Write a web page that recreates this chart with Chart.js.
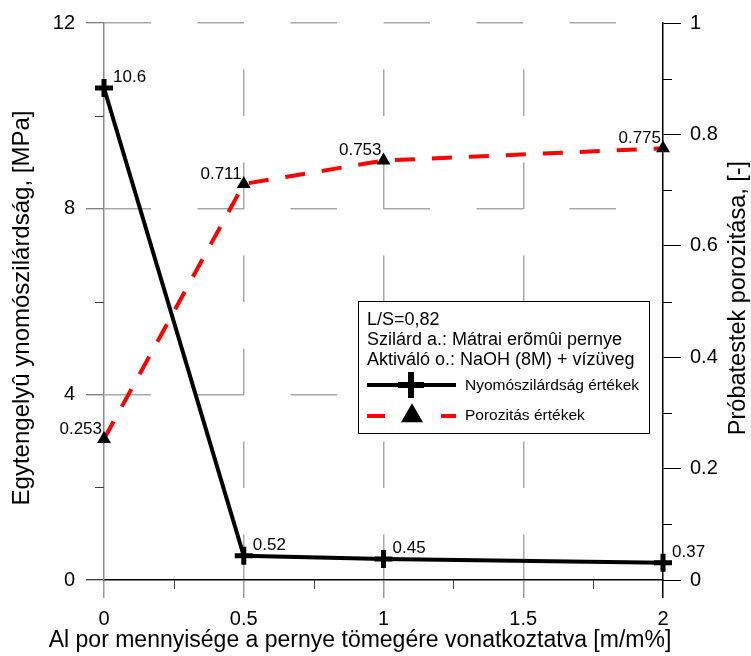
<!DOCTYPE html>
<html>
<head>
<meta charset="utf-8">
<script src="https://cdn.jsdelivr.net/npm/chart.js@4/dist/chart.umd.min.js"></script>
<style>
  html, body { margin: 0; padding: 0; background: #fff; }
</style>
</head>
<body>
<canvas id="grafikon" width="751" height="656"></canvas>
<script>
/* ADATOK */
const alMennyiseg = [0, 0.5, 1, 2];
const nyomoszilardsag = [10.6, 0.52, 0.45, 0.37];
const porozitas = [0.253, 0.711, 0.753, 0.775];

/* TENGELYEK */
const xTicks = [0, 0.5, 1, 1.5, 2];
const xMinor = [0.25, 0.75, 1.25, 1.75];
const balTicks = [0, 4, 8, 12];
const balMinor = [2, 6, 10];
const jobbTicks = [0, 0.2, 0.4, 0.6, 0.8, 1];
const jobbMinor = [0.1, 0.3, 0.5, 0.7, 0.9];

/* SZÖVEGEK */
const sorozatNevek = ["Nyomószilárdság értékek", "Porozitás értékek"];
const jelmagyarazatSorok = ["L/S=0,82", "Szilárd a.: Mátrai erõmûi pernye", "Aktiváló o.: NaOH (8M) + vízüveg"];
const cimX = "Al por mennyisége a pernye tömegére vonatkoztatva [m/m%]";
const cimBal = "Egytengelyû ynomószilárdság, [MPa]";
const cimJobb = "Próbatestek porozitása, [-]";

const BETU = "'Liberation Sans', Arial, sans-serif";
const RACS = "#a8a8a8";

function vonal(ctx, x1, y1, x2, y2) {
  ctx.beginPath();
  ctx.moveTo(x1, y1);
  ctx.lineTo(x2, y2);
  ctx.stroke();
}

/* PLUGIN: kis osztások, feliratok, jelmagyarázat, tengelycímek */
const rajzolo = {
  id: "rajzolo",
  afterDraw(chart) {
    const ctx = chart.ctx;
    const {x, y, y1} = chart.scales;
    const ca = chart.chartArea;
    ctx.save();

    // kis osztások
    ctx.lineWidth = 1;
    ctx.strokeStyle = "#444";
    balMinor.forEach(v => { const p = Math.round(y.getPixelForValue(v)) + 0.5; vonal(ctx, ca.left - 9, p, ca.left, p); });
    xMinor.forEach(v => { const p = Math.round(x.getPixelForValue(v)) + 0.5; vonal(ctx, p, ca.bottom, p, ca.bottom + 9); });
    ctx.strokeStyle = "#000";
    jobbMinor.forEach(v => { const p = Math.round(y1.getPixelForValue(v)) + 0.5; vonal(ctx, ca.right, p, ca.right + 9, p); });

    // pontfeliratok
    ctx.fillStyle = "#000";
    ctx.font = "17px " + BETU;
    ctx.textBaseline = "middle";
    ctx.textAlign = "left";
    chart.getDatasetMeta(0).data.forEach((pt, i) => {
      ctx.fillText(String(nyomoszilardsag[i]), pt.x + 9, pt.y - 11);
    });
    ctx.textAlign = "right";
    chart.getDatasetMeta(1).data.forEach((pt, i) => {
      ctx.fillText(String(porozitas[i]), pt.x - 2, pt.y - 10);
    });

    // jelmagyarázat
    const bx = 358.5, by = 301.5, bw = 291, bh = 132;
    ctx.fillStyle = "#fff";
    ctx.fillRect(bx, by, bw, bh);
    ctx.strokeStyle = "#000";
    ctx.lineWidth = 1;
    ctx.strokeRect(bx, by, bw, bh);
    ctx.fillStyle = "#000";
    ctx.textAlign = "left";
    ctx.font = "18px " + BETU;
    jelmagyarazatSorok.forEach((s, i) => ctx.fillText(s, 367, 320 + i * 20));

    const ds = chart.data.datasets;
    ctx.font = "15.5px " + BETU;
    // 1. sorozat
    ctx.strokeStyle = ds[0].borderColor;
    ctx.lineWidth = 4;
    vonal(ctx, 367, 385, 456, 385);
    ctx.lineWidth = 6;
    Chart.helpers.drawPoint(ctx, {pointStyle: "cross", radius: 13, borderWidth: 6, rotation: 0}, 411, 385);
    ctx.fillText(ds[0].label, 465, 386);
    // 2. sorozat
    ctx.strokeStyle = ds[1].borderColor;
    ctx.lineWidth = 4;
    ctx.setLineDash([18, 56]);
    vonal(ctx, 367, 416, 456, 416);
    ctx.setLineDash([]);
    ctx.fillStyle = "#000";
    Chart.helpers.drawPoint(ctx, {pointStyle: "triangle", radius: 12.7, borderWidth: 0, rotation: 0}, 412, 416);
    ctx.fillText(ds[1].label, 465, 416);

    // tengelycímek
    ctx.font = "23px " + BETU;
    ctx.textAlign = "center";
    ctx.fillText(cimX, 360, 641);
    ctx.save();
    ctx.translate(22, 308);
    ctx.rotate(-Math.PI / 2);
    ctx.font = "24px " + BETU;
    ctx.fillText(cimBal, 0, 0);
    ctx.restore();
    ctx.save();
    ctx.translate(739, 298);
    ctx.rotate(-Math.PI / 2);
    ctx.font = "23.5px " + BETU;
    ctx.fillText(cimJobb, 0, 0);
    ctx.restore();

    ctx.restore();
  }
};

const tickFont = { size: 20, family: BETU };

new Chart(document.getElementById("grafikon"), {
  type: "line",
  data: {
    datasets: [
      {
        label: sorozatNevek[0],
        data: alMennyiseg.map((v, i) => ({ x: v, y: nyomoszilardsag[i] })),
        yAxisID: "y",
        borderColor: "#000",
        borderWidth: 4,
        pointStyle: "cross",
        pointRadius: 9,
        pointBorderWidth: 5,
        pointBorderColor: "#000",
        pointBackgroundColor: "#000",
        tension: 0,
        clip: false
      },
      {
        label: sorozatNevek[1],
        data: alMennyiseg.map((v, i) => ({ x: v, y: porozitas[i] })),
        yAxisID: "y1",
        borderColor: "#ff0000",
        borderWidth: 4,
        borderDash: [20, 17],
        pointStyle: "triangle",
        pointRadius: 8,
        pointBorderWidth: 0,
        pointBorderColor: "#000",
        pointBackgroundColor: "#000",
        tension: 0,
        clip: false
      }
    ]
  },
  options: {
    responsive: false,
    animation: false,
    layout: { padding: { top: 23, left: 0, right: 0, bottom: 0 } },
    plugins: {
      legend: { display: false },
      tooltip: { enabled: false }
    },
    scales: {
      x: {
        type: "linear",
        position: "bottom",
        min: 0,
        max: 2,
        afterBuildTicks: s => { s.ticks = xTicks.map(v => ({ value: v })); },
        afterFit: s => { s.height = 76; },
        ticks: {
          color: "#000",
          font: tickFont,
          padding: 9,
          autoSkip: false,
          maxRotation: 0,
          callback: v => String(v)
        },
        grid: {
          color: c => (c.tick && (c.tick.value === 0 || c.tick.value === 2)) ? "rgba(0,0,0,0)" : RACS,
          lineWidth: 1.5,
          tickLength: 18,
          tickWidth: 1.5,
          tickColor: c => (c.tick && c.tick.value === 2) ? "#000" : "#999",
          tickBorderDash: []
        },
        border: { color: "#000", width: 1.5, dash: [46.5, 46.5], dashOffset: 46.5 }
      },
      y: {
        type: "linear",
        position: "left",
        min: 0,
        max: 12,
        afterBuildTicks: s => { s.ticks = balTicks.map(v => ({ value: v })); },
        afterFit: s => { s.width = 104; },
        ticks: {
          color: "#000",
          font: tickFont,
          padding: 11,
          callback: v => String(v)
        },
        grid: {
          color: c => (c.tick && c.tick.value === 0) ? "rgba(0,0,0,0)" : RACS,
          lineWidth: 1.5,
          tickLength: 18,
          tickWidth: 1,
          tickColor: c => (c.tick && c.tick.value === 0) ? "#000" : "#555",
          tickBorderDash: []
        },
        border: { color: "#8a8a8a", width: 1.5, dash: [46.5, 46.5], dashOffset: 0 }
      },
      y1: {
        type: "linear",
        position: "right",
        min: 0,
        max: 1,
        afterBuildTicks: s => { s.ticks = jobbTicks.map(v => ({ value: v })); },
        afterFit: s => { s.width = 88; },
        ticks: {
          color: "#000",
          font: tickFont,
          padding: 9,
          callback: v => String(v)
        },
        grid: {
          drawOnChartArea: false,
          tickLength: 18,
          tickWidth: 1,
          tickColor: "#000",
          tickBorderDash: []
        },
        border: { color: "#000", width: 1.5 }
      }
    }
  },
  plugins: [rajzolo]
});
</script>
</body>
</html>
